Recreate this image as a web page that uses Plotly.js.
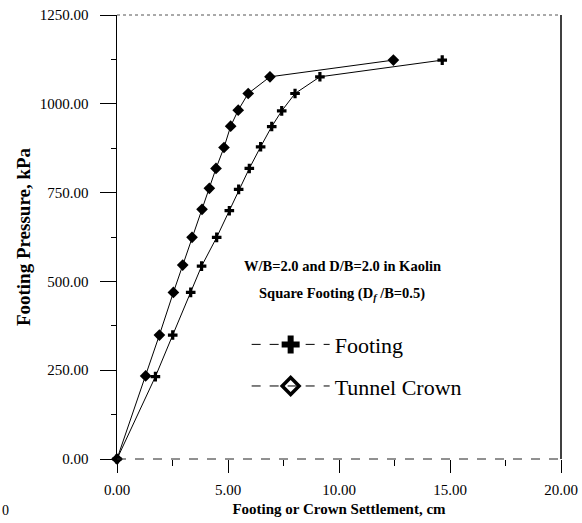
<!DOCTYPE html>
<html>
<head>
<meta charset="utf-8">
<script src="https://cdn.plot.ly/plotly-3.0.1.min.js"></script>
<style>
  html, body { margin: 0; padding: 0; background: #fff; }
  #chart { width: 582px; height: 523px; }
</style>
</head>
<body>
<div id="chart"></div>
<script>
// Footing settlement (cm) and footing pressure (kPa)
const footingSettlement = [0, 1.73, 2.51, 3.32, 3.81, 4.49, 5.06, 5.48, 5.96, 6.47, 6.97, 7.42, 8.02, 9.14, 14.65];
const footingPressure   = [0, 232, 349, 469, 543, 624, 699, 759, 818, 879, 936, 980, 1029, 1076, 1123];
// Tunnel crown settlement (cm) and footing pressure (kPa)
const crownSettlement = [0, 1.29, 1.91, 2.54, 2.96, 3.38, 3.83, 4.16, 4.46, 4.82, 5.12, 5.46, 5.91, 6.89, 12.45];
const crownPressure   = [0, 234, 349, 469, 546, 624, 703, 762, 818, 877, 937, 982, 1029, 1076, 1123];
// Tick values
const xTicks = [0, 5, 10, 15, 20];
const yTicks = [0, 250, 500, 750, 1000, 1250];
const seriesNames = ["Footing", "Tunnel Crown"];
const noteLines = ["W/B=2.0 and D/B=2.0 in Kaolin", "Square Footing (D<sub><i>f</i></sub> /B=0.5)"];

const serif = "Liberation Serif, Times New Roman, serif";

const traces = [
  {
    x: footingSettlement, y: footingPressure, mode: "lines+markers", type: "scatter",
    line: {color: "#000", width: 1},
    marker: {symbol: "cross", size: 8, color: "#000"},
    showlegend: false, cliponaxis: false
  },
  {
    x: crownSettlement, y: crownPressure, mode: "lines+markers", type: "scatter",
    line: {color: "#000", width: 1},
    marker: {symbol: "diamond", size: 9, color: "#000"},
    showlegend: false, cliponaxis: false
  },
  {
    x: [null], y: [null], mode: "lines+markers", type: "scatter", name: seriesNames[0],
    legendgroup: "a",
    line: {color: "#000", width: 1, dash: "dash"},
    marker: {symbol: "cross", size: 15, color: "#000"}
  },
  {
    x: [null], y: [null], mode: "lines+markers", type: "scatter", name: seriesNames[1],
    legendgroup: "b",
    line: {color: "#000", width: 1, dash: "dash"},
    marker: {symbol: "diamond-open", size: 13, color: "#000", line: {color: "#000", width: 3.5}}
  }
];

const layout = {
  width: 582, height: 523,
  margin: {l: 117, r: 21, t: 15, b: 64},
  paper_bgcolor: "#fff", plot_bgcolor: "#fff",
  font: {family: serif, color: "#000", size: 15},
  xaxis: {
    range: [0, 20], tickvals: xTicks, tickformat: ".2f",
    ticks: "outside", ticklen: 13, tickwidth: 1, tickcolor: "#000",
    minor: {dtick: 2.5, ticks: "outside", ticklen: 6, tickcolor: "#000"},
    showgrid: false, zeroline: false, showline: false,
    tickfont: {family: serif, size: 15},
    ticklabelstandoff: 4,
    title: {text: "<b>Footing or Crown Settlement, cm</b>", font: {family: serif, size: 15}, standoff: 6}
  },
  yaxis: {
    range: [0, 1250], tickvals: yTicks, tickformat: ".2f",
    ticks: "outside", ticklen: 16, tickwidth: 1, tickcolor: "#000",
    minor: {dtick: 125, ticks: "outside", ticklen: 5, tickcolor: "#000"},
    showgrid: false, zeroline: false, showline: true, linecolor: "#000", linewidth: 1.5,
    tickfont: {family: serif, size: 15},
    ticklabelstandoff: 8,
    title: {text: "<b>Footing Pressure, kPa</b>", font: {family: serif, size: 19}, standoff: 4}
  },
  shapes: [
    {type: "line", xref: "paper", yref: "paper", x0: 0, x1: 1, y0: 1, y1: 1, line: {color: "#555", width: 1, dash: "dot"}},
    {type: "line", xref: "paper", yref: "paper", x0: 0, x1: 1, y0: 0, y1: 0, line: {color: "#222", width: 1, dash: "dash"}},
    {type: "line", xref: "paper", yref: "paper", x0: 1, x1: 1, y0: 0, y1: 1, line: {color: "#000", width: 1.5}}
  ],
  annotations: [
    {text: "<b>" + noteLines[0] + "</b>", xref: "paper", yref: "paper", x: 0.507, y: 0.435, showarrow: false,
     xanchor: "center", yanchor: "middle", font: {family: serif, size: 14.5}},
    {text: "<b>" + noteLines[1] + "</b>", xref: "paper", yref: "paper", x: 0.507, y: 0.372, showarrow: false,
     xanchor: "center", yanchor: "middle", font: {family: serif, size: 14.5}},
    {text: "0", xref: "paper", yref: "paper", x: -112/444, y: -52/444, showarrow: false,
     xanchor: "center", yanchor: "middle", font: {family: serif, size: 14}}
  ],
  showlegend: true,
  legend: {
    x: 0.292, y: 0.305, xanchor: "left", yanchor: "top",
    bgcolor: "rgba(0,0,0,0)", borderwidth: 0,
    font: {family: serif, size: 22},
    itemwidth: 78, tracegroupgap: 10, traceorder: "grouped"
  }
};

Plotly.newPlot("chart", traces, layout, {displayModeBar: false, staticPlot: true});
</script>
</body>
</html>
